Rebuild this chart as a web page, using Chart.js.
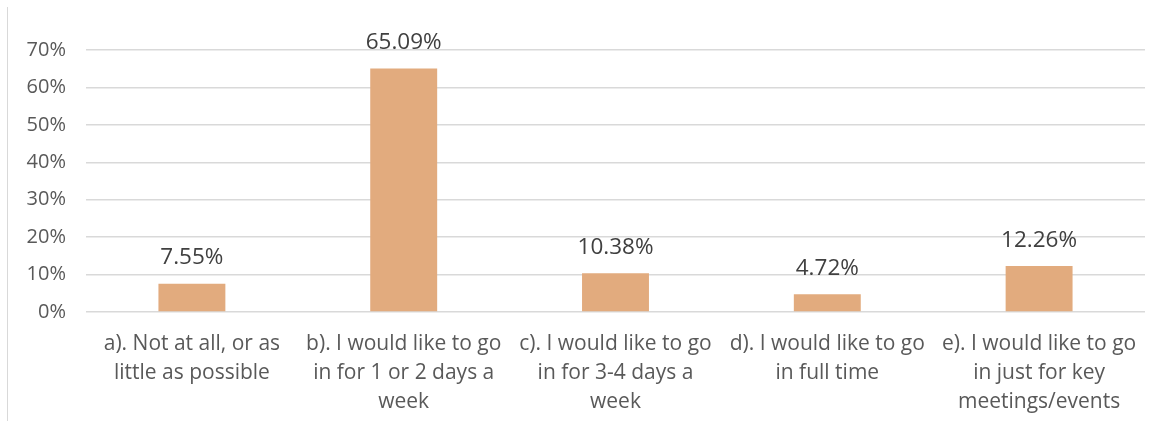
<!DOCTYPE html>
<html>
<head>
<meta charset="utf-8">
<script src="https://cdn.jsdelivr.net/npm/chart.js@4/dist/chart.umd.min.js"></script>
<style>
  body { margin: 0; background: #fff; }
  #wrap { position: relative; width: 1172px; height: 428px; }
  #edge { position: absolute; left: 7px; top: 7px; width: 1px; height: 414px; background: #d9d9d9; }
</style>
</head>
<body>
<div id="wrap">
  <div id="edge"></div>
  <canvas id="grafica" width="1172" height="428"></canvas>
</div>
<script>
  let categorias = [
    ["a). Not at all, or as", "little as possible"],
    ["b). I would like to go", "in for 1 or 2 days a", "week"],
    ["c). I would like to go", "in for 3-4 days a", "week"],
    ["d). I would like to go", "in full time"],
    ["e). I would like to go", "in just for key", "meetings/events"]
  ];
  let porcentajes = [7.55, 65.09, 10.38, 4.72, 12.26];
  let marcasY = [0, 10, 20, 30, 40, 50, 60, 70];

  let fuente = "'Open Sans', sans-serif";

  // writes the value above each bar
  let etiquetas = {
    id: "etiquetas",
    afterDatasetsDraw: function (chart) {
      let ctx = chart.ctx;
      let meta = chart.getDatasetMeta(0);
      ctx.save();
      ctx.font = "22.5px " + fuente;
      ctx.fillStyle = "#404040";
      ctx.textAlign = "center";
      ctx.textBaseline = "middle";
      meta.data.forEach(function (barra, i) {
        ctx.fillText(porcentajes[i].toFixed(2) + "%", barra.x, barra.y - 26);
      });
      ctx.restore();
    }
  };

  let ctx = document.getElementById("grafica").getContext("2d");
  let miGrafica = new Chart(ctx, {
    type: "bar",
    data: {
      labels: categorias,
      datasets: [{
        data: porcentajes,
        backgroundColor: "#E2AB7E",
        barPercentage: 0.316,
        categoryPercentage: 1
      }]
    },
    options: {
      responsive: false,
      animation: false,
      layout: { padding: { left: 6, right: 27, top: 50, bottom: 0 } },
      plugins: {
        legend: { display: false },
        tooltip: { enabled: false }
      },
      scales: {
        x: {
          grid: { display: false },
          border: { display: false },
          ticks: {
            color: "#595959",
            font: { family: fuente, size: 21, lineHeight: 1.38 },
            padding: 10,
            maxRotation: 0,
            autoSkip: false
          },
          afterFit: function (escala) { escala.height = 116; }
        },
        y: {
          min: 0,
          max: 70,
          afterBuildTicks: function (escala) {
            escala.ticks = marcasY.map(function (v) { return { value: v }; });
          },
          grid: { color: "#d9d9d9", lineWidth: 1.5, drawTicks: false },
          border: { display: false },
          ticks: {
            color: "#595959",
            font: { family: fuente, size: 20 },
            padding: 20,
            callback: function (v) { return v + "%"; }
          },
          afterFit: function (escala) { escala.width = 80; }
        }
      }
    },
    plugins: [etiquetas]
  });
</script>
</body>
</html>
